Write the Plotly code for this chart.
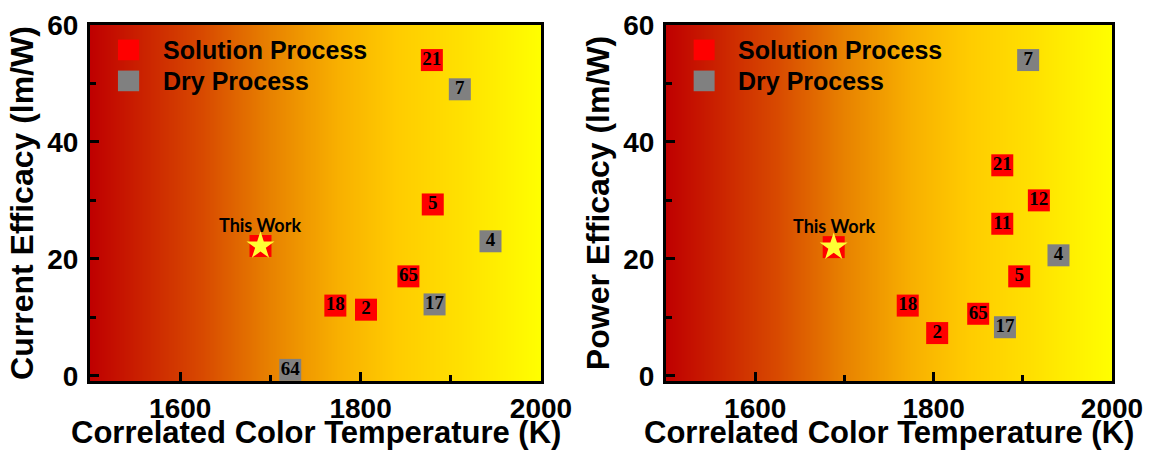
import numpy as np
import plotly.graph_objects as go

# ---- data ----
ce_sol_x = [1879, 1880, 1853, 1772, 1806]
ce_sol_y = [54, 29.3, 17, 12, 11.3]
ce_sol_lab = ["21", "5", "65", "18", "2"]
ce_dry_x = [1910, 1944, 1882, 1722]
ce_dry_y = [49, 23, 12.2, 1.0]
ce_dry_lab = ["7", "4", "17", "64"]
ce_this = (1689, 22.2)

pe_sol_x = [1877, 1918, 1877, 1896, 1771, 1850, 1804]
pe_sol_y = [36, 30, 26, 17, 12, 10.6, 7.3]
pe_sol_lab = ["21", "12", "11", "5", "18", "65", "2"]
pe_dry_x = [1906, 1940, 1880]
pe_dry_y = [54, 20.6, 8.3]
pe_dry_lab = ["7", "4", "17"]
pe_this = (1688, 22.0)

x_ticks = [1600, 1800, 2000]
y_ticks = [0, 20, 40, 60]
x_range = [1500, 2000]
y_range = [-0.9, 60]
x_title = "Correlated Color Temperature (K)"
y_titles = ["Current Efficacy (lm/W)", "Power Efficacy (lm/W)"]

RED = "#ff0000"
GRAY = "#808080"
gradient_scale = [
    [0.0, "#bf0000"], [0.25, "#d84a00"], [0.4, "#e88200"], [0.55, "#f8b000"],
    [0.68, "#ffcc00"], [0.82, "#ffe000"], [1.0, "#ffff00"],
]

fig = go.Figure()

gx = np.linspace(x_range[0], x_range[1], 101)
gz = [list(gx), list(gx)]

panels = [
    dict(xa="x", ya="y", sx=ce_sol_x, sy=ce_sol_y, sl=ce_sol_lab,
         dx=ce_dry_x, dy=ce_dry_y, dl=ce_dry_lab, tw=ce_this),
    dict(xa="x2", ya="y2", sx=pe_sol_x, sy=pe_sol_y, sl=pe_sol_lab,
         dx=pe_dry_x, dy=pe_dry_y, dl=pe_dry_lab, tw=pe_this),
]

label_font = dict(family="Liberation Serif", size=19, color="black", weight="bold")
MS = 22

for i, p in enumerate(panels):
    fig.add_trace(go.Heatmap(x=gx, y=y_range, z=gz, colorscale=gradient_scale,
                             showscale=False, zsmooth="best", hoverinfo="skip",
                             xaxis=p["xa"], yaxis=p["ya"]))
    fig.add_trace(go.Scatter(x=p["sx"], y=p["sy"], mode="markers+text", text=p["sl"],
                             textposition="middle center", textfont=label_font,
                             marker=dict(symbol="square", size=MS, color=RED,
                                         line=dict(width=0)),
                             name="Solution Process", showlegend=False,
                             xaxis=p["xa"], yaxis=p["ya"]))
    fig.add_trace(go.Scatter(x=p["dx"], y=p["dy"], mode="markers+text", text=p["dl"],
                             textposition="middle center", textfont=label_font,
                             marker=dict(symbol="square", size=MS, color=GRAY,
                                         line=dict(width=0)),
                             name="Dry Process", showlegend=False,
                             xaxis=p["xa"], yaxis=p["ya"]))
    fig.add_trace(go.Scatter(x=[p["tw"][0]], y=[p["tw"][1]], mode="markers",
                             marker=dict(symbol="square", size=MS, color=RED,
                                         line=dict(width=0)),
                             showlegend=False, xaxis=p["xa"], yaxis=p["ya"]))
    fig.add_trace(go.Scatter(x=[p["tw"][0]], y=[p["tw"][1]], mode="markers",
                             marker=dict(symbol="star", size=21, color="#ffff33",
                                         line=dict(width=0)),
                             showlegend=False, xaxis=p["xa"], yaxis=p["ya"]))
    fig.add_annotation(x=p["tw"][0], y=p["tw"][1], xref=p["xa"], yref=p["ya"],
                       text="This Work", showarrow=False, yshift=21,
                       font=dict(family="Lato", size=18, color="black", weight="bold"))

    # legend inside each panel (drawn as shapes + annotations)
    xr = "x domain" if i == 0 else "x2 domain"
    yr = "y domain" if i == 0 else "y2 domain"
    for j, (nm, col) in enumerate([("Solution Process", RED), ("Dry Process", GRAY)]):
        yy = 0.930 - j * 0.087
        fig.add_shape(type="rect", xref=xr, yref=yr, x0=0.062, x1=0.109,
                      y0=yy - 0.029, y1=yy + 0.029, fillcolor=col, line=dict(width=0))
        fig.add_annotation(xref=xr, yref=yr, x=0.157, y=yy, xanchor="left",
                           yanchor="middle", text=nm, showarrow=False,
                           font=dict(family="Liberation Sans", size=25, color="black",
                                     weight="bold"))
    # x-axis title as a paper-positioned annotation
    fig.add_annotation(xref=xr, yref="paper", x=0.5, y=1 - 432 / 450,
                       xanchor="center", yanchor="middle", text=x_title, showarrow=False,
                       font=dict(family="Liberation Sans", size=31, color="black",
                                 weight="bold"))

axis_common = dict(
    showline=True, linecolor="black", linewidth=3, mirror=True,
    ticks="inside", ticklen=9, tickwidth=3, tickcolor="black",
    showgrid=False, zeroline=False, automargin=False,
    tickfont=dict(family="Liberation Sans", size=28, color="black", weight="bold"),
)
xaxis_cfg = dict(axis_common, range=x_range, tickvals=x_ticks, ticklabelstandoff=0,
                 minor=dict(ticks="inside", ticklen=6, tickwidth=2.5, tickcolor="black",
                            dtick=100, tick0=1500))
yaxis_cfg = dict(axis_common, range=y_range, tickvals=y_ticks, ticklabelstandoff=3,
                 minor=dict(ticks="inside", ticklen=6, tickwidth=2.5, tickcolor="black",
                            dtick=10, tick0=0))

PLOT_TOP, PLOT_BOT = 25, 381
fig.update_layout(
    width=1150, height=450,
    margin=dict(l=0, r=0, t=0, b=0),
    paper_bgcolor="white",
    plot_bgcolor="white",
    showlegend=False,
    xaxis=dict(xaxis_cfg, domain=[90 / 1150, 541 / 1150], anchor="y"),
    yaxis=dict(yaxis_cfg, domain=[1 - PLOT_BOT / 450, 1 - PLOT_TOP / 450], anchor="x",
               title=dict(text=y_titles[0], standoff=5,
                          font=dict(family="Liberation Sans", size=32, color="black",
                                    weight="bold"))),
    xaxis2=dict(xaxis_cfg, domain=[666 / 1150, 1112 / 1150], anchor="y2"),
    yaxis2=dict(yaxis_cfg, domain=[1 - PLOT_BOT / 450, 1 - PLOT_TOP / 450], anchor="x2",
                title=dict(text=y_titles[1], standoff=5,
                           font=dict(family="Liberation Sans", size=32, color="black",
                                     weight="bold"))),
)

fig.write_html("out.html", config={"displayModeBar": False},
               post_script="document.body.style.margin='0px';")
